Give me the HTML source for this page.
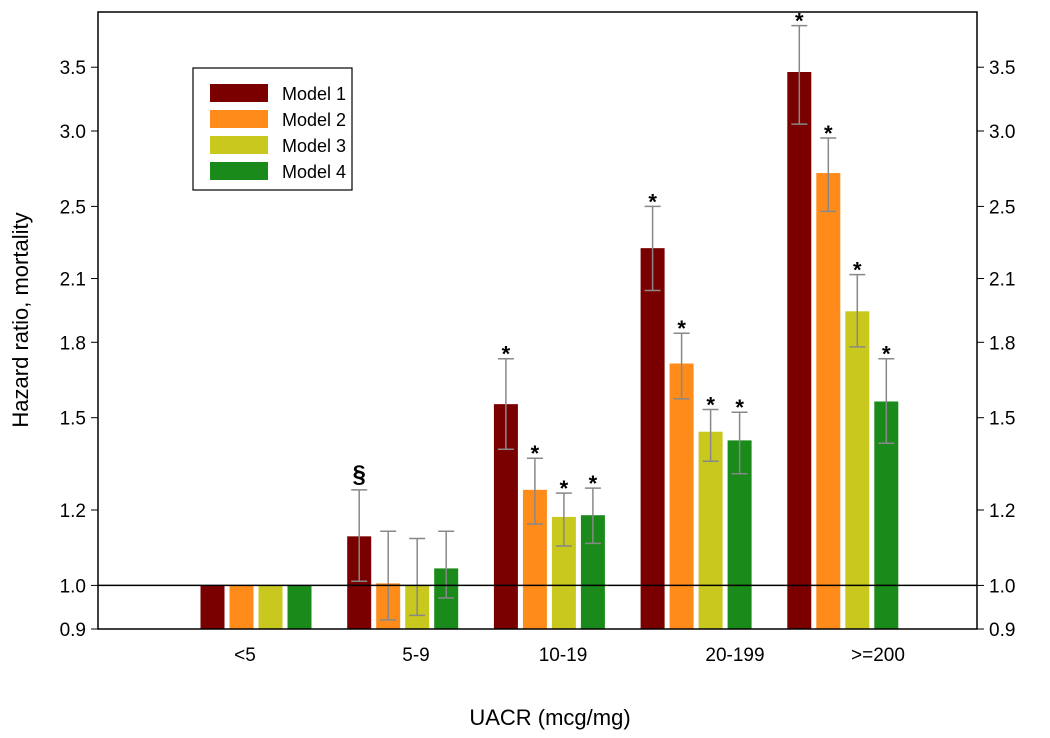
<!DOCTYPE html>
<html><head><meta charset="utf-8"><style>
html,body{margin:0;padding:0;background:#fff;}
svg{display:block;font-family:"Liberation Sans",Arial,sans-serif;}
</style></head><body>
<svg id="chart" width="1050" height="738" viewBox="0 0 1050 738">
<g id="plot"></g>
</svg>
<script>
const categories=["<5","5-9","10-19","20-199",">=200"];
const seriesNames=["Model 1","Model 2","Model 3","Model 4"];
const m1=[1.0,1.126,1.55,2.26,3.46];
const m2=[1.0,1.005,1.26,1.71,2.71];
const m3=[1.0,1.0,1.18,1.45,1.94];
const m4=[1.0,1.042,1.185,1.42,1.56];
const m1Lo=[null,1.01,1.39,2.04,3.05], m1Hi=[null,1.26,1.73,2.50,3.87];
const m2Lo=[null,0.92,1.16,1.57,2.47], m2Hi=[null,1.14,1.36,1.84,2.95];
const m3Lo=[null,0.93,1.10,1.35,1.78], m3Hi=[null,1.12,1.25,1.53,2.12];
const m4Lo=[null,0.97,1.107,1.31,1.41], m4Hi=[null,1.14,1.265,1.52,1.73];
const marks=[["","","","",""],["§","","","",""],["*","*","*","*","*"],["*","*","*","*","*"],["*","*","*","*","*"]];
const yTicks=[0.9,1.0,1.2,1.5,1.8,2.1,2.5,3.0,3.5];
const yTickLabels=["0.9","1.0","1.2","1.5","1.8","2.1","2.5","3.0","3.5"];
const colors=["#7a0000","#ff8c1a","#c8c81e","#1a8a1a"];

const NS="http://www.w3.org/2000/svg";
const g=document.getElementById('plot');
const L=98,R=977,T=12,B=629;
const yMin=0.9,yMax=4.0;
function y(v){return B-(Math.log(v)-Math.log(yMin))/(Math.log(yMax)-Math.log(yMin))*(B-T);}
function gc(i){return 256+i*146.7;}
function lx(i){return [245,416,563,735,878][i];}
function el(tag,a,txt){const e=document.createElementNS(NS,tag);for(const k in a)e.setAttribute(k,a[k]);if(txt!==undefined)e.textContent=txt;g.appendChild(e);return e;}

const vals=[m1,m2,m3,m4],los=[m1Lo,m2Lo,m3Lo,m4Lo],his=[m1Hi,m2Hi,m3Hi,m4Hi];
const bw=24,step=29;
for(let c=0;c<categories.length;c++){
  for(let s=0;s<4;s++){
    const cx=gc(c)+(s-1.5)*step;
    const top=y(vals[s][c]);
    const r=el('rect',{x:cx-bw/2,y:top,width:bw,height:B-top,fill:colors[s]});
    
    
    if(los[s][c]!==null){
      const hy=y(his[s][c]),ly=y(los[s][c]);
      const e=el('path',{d:`M${cx},${hy}V${ly}M${cx-8},${hy}H${cx+8}M${cx-8},${ly}H${cx+8}`,stroke:'#888',"stroke-width":1.5,fill:'none'});
      
      
      const m=marks[c][s];
      if(m){const t=el('text',{x:cx,y:m==="§"?hy-8:hy+3,"text-anchor":"middle","font-size":m==="§"?24:22,"font-weight":"bold",fill:'#000'},m);
        
        }
    }
  }
  const t=el('text',{x:lx(c),y:661,"text-anchor":"middle","font-size":19},categories[c]);
  
  
}
const ref=el('line',{x1:L,x2:R,y1:y(1.0),y2:y(1.0),stroke:'#000',"stroke-width":1.5});


const frame=el('rect',{x:L,y:T,width:R-L,height:B-T,fill:'none',stroke:'#000',"stroke-width":1.5});


for(let i=0;i<yTicks.length;i++){
  const yy=y(yTicks[i]);
  el('line',{x1:L-7,x2:L,y1:yy,y2:yy,stroke:'#000'});
  el('line',{x1:R,x2:R+7,y1:yy,y2:yy,stroke:'#000'});
  const a=el('text',{x:L-12,y:yy+7,"text-anchor":"end","font-size":19},yTickLabels[i]);
  
  
  const b=el('text',{x:R+12,y:yy+7,"text-anchor":"start","font-size":19},yTickLabels[i]);
  
  
}
const yt=el('text',{x:0,y:0,transform:'translate(28,320) rotate(-90)',"text-anchor":"middle","font-size":22},'Hazard ratio, mortality');


const xt=el('text',{x:550,y:725,"text-anchor":"middle","font-size":22},'UACR (mcg/mg)');


const lg=el('rect',{x:193,y:68,width:159,height:122,fill:'#fff',stroke:'#000',"stroke-width":1.2});


for(let s=0;s<4;s++){
  const ly=84+s*26;
  const sw=el('rect',{x:210,y:ly,width:58,height:18,fill:colors[s]});
  
  
  const t=el('text',{x:282,y:ly+16,"font-size":18},seriesNames[s]);
  
  
}
</script>
</body></html>
